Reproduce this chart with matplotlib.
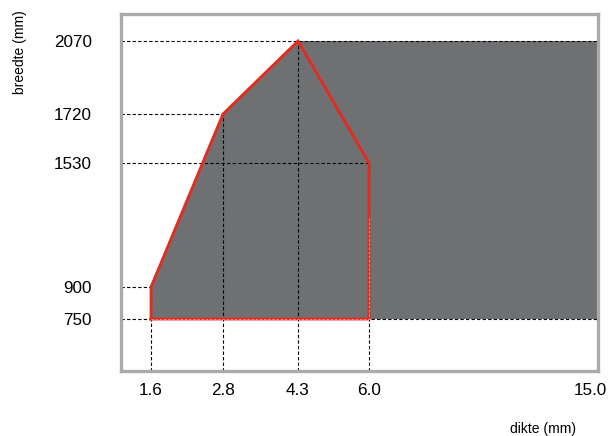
import numpy as np
import matplotlib
matplotlib.use("Agg")
import matplotlib.pyplot as plt
from matplotlib.transforms import ScaledTranslation

# values
dikte = [1.6, 2.8, 4.3, 6.0, 15.0]          # x ticks (mm)
breedte = [750, 900, 1530, 1720, 2070]      # y ticks (mm)

# grey area (range) and red outline
area_x = [1.6, 1.6, 2.8, 4.3, 15.0, 15.0]
area_y = [750, 900, 1720, 2070, 2070, 750]
red_x = [1.6, 1.6, 2.8, 4.3, 6.0, 6.0, 1.6]
red_y = [750, 900, 1720, 2070, 1530, 750, 750]

# guide lines: (value, where the line stops)
h_guides = [(2070, 15.0), (1720, 2.8), (1530, 6.0), (900, 1.6), (750, 15.0)]
v_guides = [(1.6, 900), (2.8, 1720), (4.3, 2070), (6.0, 1530)]

# the axes are not linear: piecewise mapping value -> pixel offset
x_knots = [1.0, 1.6, 2.8, 4.3, 6.0, 15.0]
x_pix = [0, 30, 102, 177, 248, 477]
y_knots = [500, 750, 900, 1530, 1720, 2070, 2200]
y_pix = [0, 52, 84, 208, 257, 330, 357]

W, H = 611, 436
fig = plt.figure(figsize=(W / 100, H / 100), dpi=100)
ax = fig.add_axes([121 / W, (H - 371) / H, (598 - 121) / W, (371 - 14) / H])

ax.set_xscale('function', functions=(lambda v: np.interp(v, x_knots, x_pix),
                                     lambda p: np.interp(p, x_pix, x_knots)))
ax.set_yscale('function', functions=(lambda v: np.interp(v, y_knots, y_pix),
                                     lambda p: np.interp(p, y_pix, y_knots)))
ax.set_xlim(x_knots[0], x_knots[-1])
ax.set_ylim(y_knots[0], y_knots[-1])

ax.fill(area_x, area_y, color='#6f7072', lw=0, zorder=1)

dash = dict(color='black', lw=0.8, ls=(0, (3, 2)), zorder=2)
for yv, xe in h_guides:
    ax.plot([x_knots[0], xe], [yv, yv], **dash)
for xv, ye in v_guides:
    ax.plot([xv, xv], [y_knots[0], ye], **dash)
ax.plot([15.0, 15.0], [750, 2070], **dash)

ax.plot(red_x, red_y, color='#e8291c', lw=2.0, solid_joinstyle='miter', zorder=3)
# light dashes on the lower edges
ax.plot([1.6, 6.0, 6.0], [750, 750, 1250], color='white', lw=0.6,
        ls=(0, (3, 2)), alpha=0.5, zorder=4)

ax.set_xticks(dikte)
ax.set_xticklabels([f"{v:.1f}" for v in dikte])
ax.set_yticks(breedte)
ax.set_yticklabels([str(v) for v in breedte])
ax.tick_params(length=0, labelsize=12.3)
ax.tick_params(axis='x', pad=8.5)
ax.tick_params(axis='y', pad=21)
for lab in ax.get_xticklabels() + ax.get_yticklabels():
    lab.set_fontfamily('Liberation Sans')
ax.minorticks_off()
last = ax.get_xticklabels()[-1]
last.set_transform(last.get_transform() + ScaledTranslation(-8 / 100, 0, fig.dpi_scale_trans))

for sp in ax.spines.values():
    sp.set_color('#aaaaaa')
    sp.set_linewidth(2.4)

fig.text(20 / W, 1 - 52 / H, 'breedte (mm)', rotation=90, ha='center', va='center',
         fontsize=10, family='Liberation Sans')
fig.text(543 / W, 1 - 429 / H, 'dikte (mm)', ha='center', va='center',
         fontsize=10, family='Liberation Sans')

fig.savefig('out.png', dpi=100)
